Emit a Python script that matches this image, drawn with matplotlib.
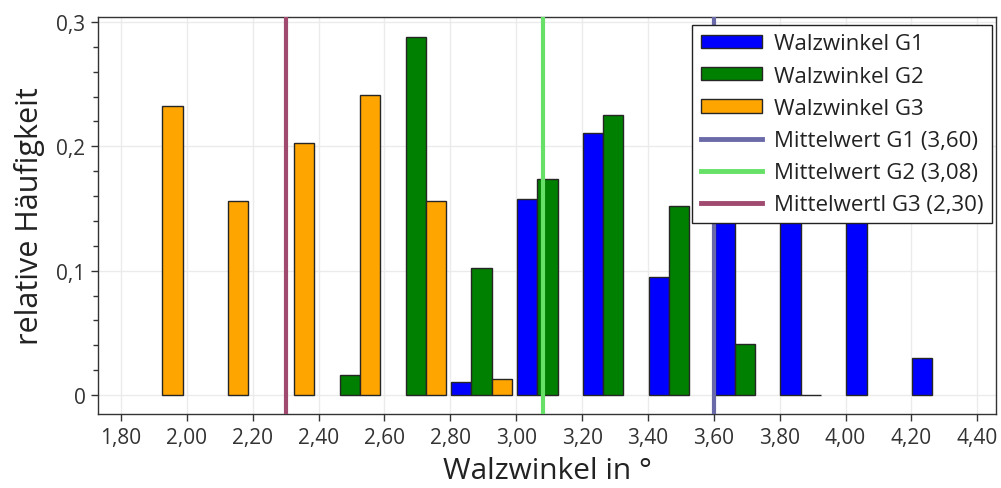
import matplotlib
matplotlib.use("Agg")
import matplotlib.pyplot as plt
from matplotlib.ticker import MultipleLocator, FuncFormatter
from matplotlib.patches import Patch
from matplotlib.lines import Line2D

plt.rcParams['font.family'] = ['Open Sans', 'DejaVu Sans']

# Histogram bins (lower edge of each 0.2° class)
bin_starts = [1.8, 2.0, 2.2, 2.4, 2.6, 2.8, 3.0, 3.2, 3.4, 3.6, 3.8, 4.0, 4.2]
bin_width = 0.2

# Relative frequencies per group (None = no bar drawn)
g1_values = [None, None, None, None, None, 0.0105, 0.158, 0.211, 0.095, 0.190, 0.165, 0.143, 0.0297]
g2_values = [None, None, None, 0.016, 0.288, 0.102, 0.174, 0.225, 0.152, 0.041, 0.0, None, None]
g3_values = [0.232, 0.156, 0.203, 0.241, 0.156, 0.0129, None, None, None, None, None, None, None]

series_labels = ["Walzwinkel G1", "Walzwinkel G2", "Walzwinkel G3"]
series_colors = ["#0000ff", "#008000", "#ffa500"]

mean_values = [3.60, 3.08, 2.30]
mean_labels = ["Mittelwert G1 (3,60)", "Mittelwert G2 (3,08)", "Mittelwertl G3 (2,30)"]
mean_colors = ["#6a6aa8", "#66e066", "#a04a70"]

x_ticks = [1.8, 2.0, 2.2, 2.4, 2.6, 2.8, 3.0, 3.2, 3.4, 3.6, 3.8, 4.0, 4.2, 4.4]
y_ticks = [0.0, 0.1, 0.2, 0.3]

fig = plt.figure(figsize=(10.01, 4.89), dpi=100)
ax = fig.add_axes([0.0979, 0.1513, 0.8971, 0.8117])

bar_w = 0.0615
bar_pad = 0.0025
edge = "#262626"

for i, (vals, color) in enumerate(zip([g1_values, g2_values, g3_values], series_colors)):
    xs, hs = [], []
    for b, v in zip(bin_starts, vals):
        if v is None:
            continue
        xs.append(b + bar_pad + i * bar_w)
        hs.append(v)
    ax.bar(xs, hs, width=bar_w, align="edge", color=color,
           edgecolor=edge, linewidth=1.0, zorder=3)

for m, c in zip(mean_values, mean_colors):
    ax.axvline(m, color=c, linewidth=3.0, zorder=4)

ax.set_xlim(1.730, 4.457)
ax.set_ylim(-0.0153, 0.3039)

ax.set_xticks(x_ticks)
ax.set_yticks(y_ticks)
ax.yaxis.set_minor_locator(MultipleLocator(0.02))

ax.xaxis.set_major_formatter(FuncFormatter(lambda v, p: f"{v:.2f}".replace(".", ",")))
ax.yaxis.set_major_formatter(FuncFormatter(lambda v, p: "0" if abs(v) < 1e-9 else f"{v:.1f}".replace(".", ",")))

ax.grid(True, which="major", color="#ebebeb", linewidth=1.0, zorder=0)
ax.set_axisbelow(True)

ax.tick_params(axis="both", which="major", direction="out", length=5, width=1,
               labelsize=15, labelcolor="#333333", color="#333333", pad=4)
ax.tick_params(axis="y", which="minor", direction="out", length=3.5, width=1, color="#333333")
for s in ax.spines.values():
    s.set_color("#333333")
    s.set_linewidth(1.0)

ax.set_xlabel("Walzwinkel in °", fontsize=21.5, color="#222222", labelpad=6)
ax.set_ylabel("relative Häufigkeit", fontsize=22, color="#222222", labelpad=8)

handles = [Patch(facecolor=c, edgecolor=edge, linewidth=1.0) for c in series_colors]
handles += [Line2D([0], [0], color=c, linewidth=3.5) for c in mean_colors]
leg = ax.legend(handles, series_labels + mean_labels, loc="upper right",
                bbox_to_anchor=(0.9955, 0.98),
                fontsize=16, frameon=True, fancybox=False, framealpha=1.0,
                edgecolor="#222222", borderaxespad=0.0, handlelength=2.75,
                handleheight=0.55, handletextpad=0.55, labelspacing=0.5,
                borderpad=0.38)
leg.get_frame().set_linewidth(1.0)
leg.set_zorder(10)
for t in leg.get_texts():
    t.set_color("#222222")

fig.savefig("out.png", dpi=100)
